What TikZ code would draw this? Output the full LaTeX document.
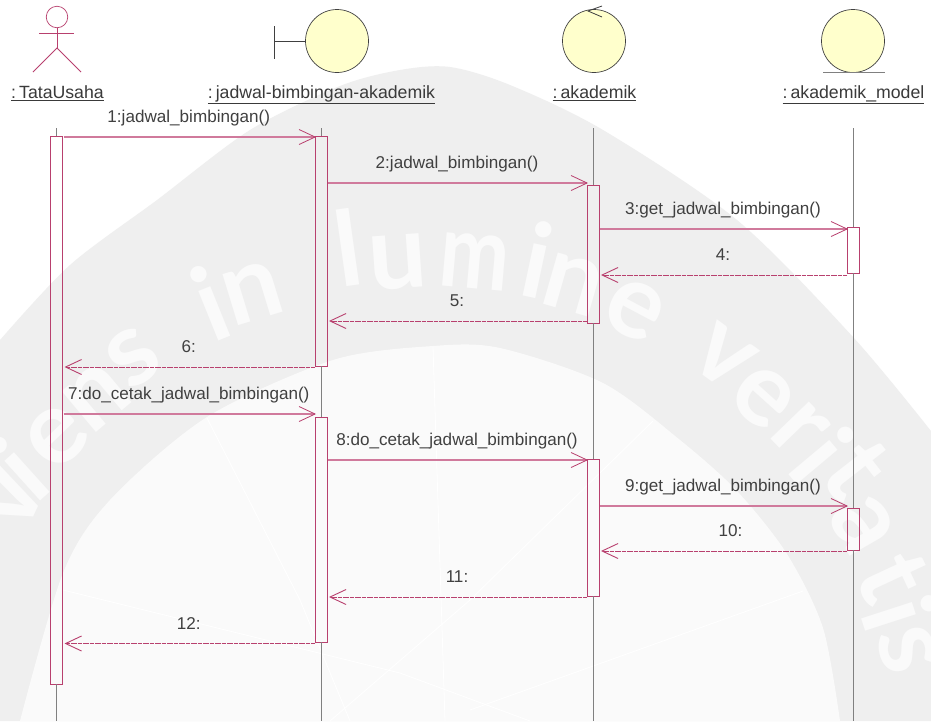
\documentclass[tikz,border=0pt]{standalone}
\usepackage{fontspec}
\setmainfont{Liberation Sans}
\newfontfamily\wmfont{Lato}
\usetikzlibrary{arrows.meta}
\definecolor{umlred}{HTML}{B8406E}
\definecolor{umlcall}{HTML}{D07A9C}
\definecolor{umlfill}{HTML}{FFFFCC}
\definecolor{umltext}{HTML}{404040}
\definecolor{wmgray}{HTML}{EFEFEF}
\definecolor{wmlight}{HTML}{FAFAFA}
\tikzset{
  bar/.style={rectangle, draw=umlred, line width=1pt, minimum width=12pt, inner sep=0pt, outer sep=0pt, anchor=north},
  lifeline/.style={draw=gray, line width=.9pt},
  call/.style={-{Straight Barb[length=16pt,width=15pt,line width=.8pt,color=umlred]}, draw=umlcall, line width=1.1pt, shorten <=1pt, shorten >=-1pt},
  reply/.style={-{Straight Barb[length=16pt,width=15pt,line width=.9pt,color=umlred]}, draw=umlred, line width=.8pt, dash pattern=on 2pt off .4pt, shorten >=2pt},
  msg/.style={font=\fontsize{17.1}{19}\selectfont, text=umltext, inner sep=0pt, text height=12pt, text depth=4pt, above=10pt},
  objname/.style={font=\fontsize{17.7}{19}\selectfont, text=umltext!90!black, inner sep=0pt},
  robust/.style={circle, draw=umltext, fill=umlfill, line width=.7pt, minimum size=63pt, inner sep=0pt, outer sep=0pt},
  wm/.style={font=\wmfont\bfseries\fontsize{104}{104}\selectfont, text=wmlight, inner sep=0pt}
}
\begin{document}
\begin{tikzpicture}[x=1pt,y=-1pt]
\useasboundingbox (0,0) rectangle (931,721);
% watermark
\fill[white] (0,0) rectangle (931,721);
\fill[wmgray] plot[smooth] coordinates {(0,340) (70,265) (157,200) (250,130) (340,86) (400,70) (450,67) (510,85) (603,130) (737,220) (853,337) (931,431)} -- (931,721) -- (0,721) -- cycle;
\fill[wmlight] plot[smooth] coordinates {(20,721) (63,573) (110,500) (207,417) (333,360) (433,346) (500,348) (603,383) (680,440) (737,491) (787,554) (823,628) (840,721)} -- cycle;
\draw[white, line width=.8pt] (207,418) -- (300,600) -- (350,721);
\draw[white, line width=.8pt] (63,590) -- (400,673) -- (530,721);
\draw[white, line width=.8pt] (803,591) -- (470,710);
\draw[white, line width=.8pt] (653,421) -- (470,600) -- (330,721);
\draw[white, line width=.8pt] (433,347) -- (445,721);
\node[wm, rotate=65] (w1) at (12,500) {v};
\node[wm, rotate=42] (w2) at (20,468) {i};
\node[wm, rotate=44] (w3) at (57,437) {e};
\node[wm, rotate=40] (w4) at (97,397) {n};
\node[wm, rotate=36] (w5) at (133,357) {s};
\node[wm, rotate=22] (w6) at (210,303) {i};
\node[wm, rotate=17] (w7) at (253,293) {n};
\node[wm, rotate=8] (w8) at (348,247) {l};
\node[wm, rotate=4] (w9) at (398,262) {u};
\node[wm, rotate=-5, xscale=.8] (w10) at (475,262) {m};
\node[wm, rotate=-12] (w11) at (537,260) {i};
\node[wm, rotate=-16] (w12) at (573,285) {n};
\node[wm, rotate=-28] (w13) at (635,310) {e};
\node[wm, rotate=-36] (w14) at (723,357) {v};
\node[wm, rotate=-42] (w15) at (763,397) {e};
\node[wm, rotate=-46] (w16) at (800,430) {r};
\node[wm, rotate=-50] (w17) at (823,455) {i};
\node[wm, rotate=-52] (w18) at (857,470) {t};
\node[wm, rotate=-60] (w19) at (863,525) {a};
\node[wm, rotate=-65] (w20) at (893,577) {t};
\node[wm, rotate=-72] (w21) at (900,613) {i};
\node[wm, rotate=-75] (w22) at (907,650) {s};
% actor
\node[circle, draw=umlred, fill=white, line width=.7pt, minimum size=21.5pt, inner sep=0pt, outer sep=0pt] (head) at (57,17) {};
\coordinate (hip) at (57,48);
\coordinate (armL) at (39,33);
\coordinate (armR) at (74,33);
\coordinate (legL) at (33,72);
\coordinate (legR) at (81,72);
\draw[umlred, line width=.9pt] (head) -- (hip);
\draw[umlred, line width=.9pt] (armL) -- (armR);
\draw[umlred, line width=.9pt] (legL) -- (hip) -- (legR);
% boundary
\node[robust] (boundary) at (337,41) {};
\coordinate (barT) at (274.5,26);
\coordinate (barB) at (274.5,59);
\coordinate (barM) at (274.5,41);
\draw[umltext, line width=.9pt] (barT) -- (barB);
\draw[umltext, line width=.9pt] (barM) -- (boundary);
% control
\node[robust] (control) at (594,41) {};
\coordinate (tipA) at (602,6);
\coordinate (tipB) at (588,11);
\coordinate (tipC) at (602,17);
\draw[umltext, line width=.8pt] (tipA) -- (tipB) -- (tipC);
% entity
\node[robust] (entity) at (853,41) {};
\coordinate (baseL) at (823,72.5);
\coordinate (baseR) at (885,72.5);
\draw[gray, line width=1pt] (baseL) -- (baseR);
% names
\node[objname] (n1) at (57.5,93.5) {\underline{:\kern3pt TataUsaha}};
\node[objname] (n2) at (321.5,94.5) {\underline{:\kern3pt jadwal-bimbingan-akademik}};
\node[objname] (n3) at (594.5,93.5) {\underline{:\kern3pt akademik}};
\node[objname] (n4) at (853.5,94.5) {\underline{:\kern3pt akademik\_model}};
% activations
\node[bar, minimum height=548pt] (a1) at (56.5,136) {};
\node[bar, minimum height=230pt] (b1) at (321,136) {};
\node[bar, minimum height=225pt] (b2) at (321,417) {};
\node[bar, minimum height=138pt] (c1) at (593,185) {};
\node[bar, minimum height=137pt] (c2) at (593,459) {};
\node[bar, minimum height=46pt] (d1) at (853,227) {};
\node[bar, minimum height=42pt] (d2) at (853,508) {};
% lifelines
\coordinate (a0) at (56.5,128);
\coordinate (a9) at (56.5,721);
\coordinate (b0) at (321,128);
\coordinate (b9) at (321,721);
\coordinate (c0) at (593,128);
\coordinate (c9) at (593,721);
\coordinate (d0) at (853,128);
\coordinate (d9) at (853,721);
\draw[lifeline] (a0) -- (a1.north);
\draw[lifeline] (a1.south) -- (a9);
\draw[lifeline] (b0) -- (b1.north);
\draw[lifeline] (b1.south) -- (b2.north);
\draw[lifeline] (b2.south) -- (b9);
\draw[lifeline] (c0) -- (c1.north);
\draw[lifeline] (c1.south) -- (c2.north);
\draw[lifeline] (c2.south) -- (c9);
\draw[lifeline] (d0) -- (d1.north);
\draw[lifeline] (d1.south) -- (d2.north);
\draw[lifeline] (d2.south) -- (d9);
% messages
\coordinate (m1) at (0,137);
\coordinate (m2) at (0,183);
\coordinate (m3) at (0,229);
\coordinate (m4) at (0,275);
\coordinate (m5) at (0,321);
\coordinate (m6) at (0,367);
\coordinate (m7) at (0,414);
\coordinate (m8) at (0,460);
\coordinate (m9) at (0,506);
\coordinate (m10) at (0,551);
\coordinate (m11) at (0,597);
\coordinate (m12) at (0,643.5);
\draw[call] (a1.east |- m1) -- (b1.west |- m1) node[midway, msg] {1:jadwal\_bimbingan()};
\draw[call] (b1.east |- m2) -- (c1.west |- m2) node[midway, msg] {2:jadwal\_bimbingan()};
\draw[call] (c1.east |- m3) -- (d1.west |- m3) node[midway, msg] {3:get\_jadwal\_bimbingan()};
\draw[reply] (d1.west |- m4) -- (c1.east |- m4) node[midway, msg] {4:};
\draw[reply] (c1.west |- m5) -- (b1.east |- m5) node[midway, msg] {5:};
\draw[reply] (b1.west |- m6) -- (a1.east |- m6) node[midway, msg] {6:};
\draw[call] (a1.east |- m7) -- (b2.west |- m7) node[midway, msg] {7:do\_cetak\_jadwal\_bimbingan()};
\draw[call] (b2.east |- m8) -- (c2.west |- m8) node[midway, msg] {8:do\_cetak\_jadwal\_bimbingan()};
\draw[call] (c2.east |- m9) -- (d2.west |- m9) node[midway, msg] {9:get\_jadwal\_bimbingan()};
\draw[reply] (d2.west |- m10) -- (c2.east |- m10) node[pos=.47, msg] {10:};
\draw[reply] (c2.west |- m11) -- (b2.east |- m11) node[midway, msg] {11:};
\draw[reply] (b2.west |- m12) -- (a1.east |- m12) node[midway, msg] {12:};
\end{tikzpicture}
\end{document}
